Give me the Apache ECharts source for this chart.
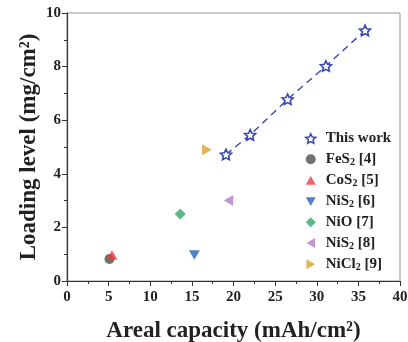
<!DOCTYPE html>
<html>
<head>
<meta charset="utf-8">
<script src="https://cdn.jsdelivr.net/npm/echarts@6/dist/echarts.min.js"></script>
<style>
  html, body { margin: 0; padding: 0; background: #fff; }
  #main { width: 408px; height: 342px; }
</style>
</head>
<body>
<div id="main"></div>
<script>
// this work
var workCap = [19.1, 22.0, 26.5, 31.1, 35.8];
var workLoad = [4.72, 5.45, 6.78, 8.02, 9.35];

// literature points [capacity, loading]
var refNames = ["FeS2 [4]", "CoS2 [5]", "NiS2 [6]", "NiO [7]", "NiS2 [8]", "NiCl2 [9]"];
var refCap = [5.1, 5.4, 15.3, 13.6, 19.4, 16.8];
var refLoad = [0.82, 0.97, 0.97, 2.5, 3.0, 4.9];
var refColors = ["#4d4d4d", "#ee3b3b", "#2563c4", "#2ea866", "#b47cc7", "#d9a02a"];

var xTicks = [0, 40, 5];
var yTicks = [0, 10, 2];

var starPath = "path://M50 0 L64.11 30.58 L97.55 34.55 L72.83 57.42 L79.39 90.45 L50 74 L20.61 90.45 L27.17 57.42 L2.45 34.55 L35.89 30.58 Z";
var triUp = "path://M5 0 L10 8.66 L0 8.66 Z";
var triDown = "path://M0 0 L10 0 L5 8.66 Z";
var triLeft = "path://M0 5 L8.66 0 L8.66 10 Z";
var triRight = "path://M0 0 L8.66 5 L0 10 Z";
var refSymbols = ["circle", triUp, triDown, "diamond", triLeft, triRight];
var refSizes = [10, 11, 11, 11, 11, 11];

var serif = "Liberation Serif";
var blue = "#3a48b0";

var myChart = echarts.init(document.getElementById("main"));

var series = [{
  name: "This work",
  type: "line",
  data: workCap.map(function (c, i) { return [c, workLoad[i]]; }),
  symbol: starPath,
  symbolSize: 11,
  symbolKeepAspect: true,
  itemStyle: { color: "#fff", borderColor: blue, borderWidth: 1.6 },
  lineStyle: { color: blue, width: 1.4, type: [7, 5] },
  z: 3
}];
for (var i = 0; i < refNames.length; i++) {
  series.push({
    name: refNames[i],
    type: "scatter",
    data: [[refCap[i], refLoad[i]]],
    symbol: refSymbols[i],
    symbolSize: refSizes[i],
    symbolKeepAspect: true,
    itemStyle: { color: refColors[i] }
  });
}

var legendData = [{
  name: "This work",
  icon: starPath,
  itemStyle: { color: "#fff", borderColor: blue, borderWidth: 1.5 }
}].concat(refNames.map(function (n, i) { return { name: n, icon: refSymbols[i] }; }));

var option = {
  animation: false,
  grid: {
    left: 67, right: 8, top: 13, bottom: 61,
    outerBoundsMode: "none", containLabel: false,
    show: true, borderColor: "#999", borderWidth: 1
  },
  legend: {
    orient: "vertical",
    left: 300,
    top: 126,
    itemWidth: 10,
    itemHeight: 10,
    itemGap: 5.2,
    data: legendData,
    formatter: function (name) {
      var m = name.match(/^(.*?)2 (\[\d\])$/);
      if (m) return "{t|" + m[1] + "}{s|2}{t| " + m[2] + "}";
      return "{t|" + name + "}";
    },
    textStyle: {
      padding: [0, 0, 0, 5],
      rich: {
        t: { fontFamily: serif, fontWeight: "bold", fontSize: 15, color: "#222", lineHeight: 16 },
        s: { fontFamily: serif, fontWeight: "bold", fontSize: 10, color: "#222", lineHeight: 10, verticalAlign: "bottom", padding: [6, 0, 0, 0] }
      }
    }
  },
  xAxis: {
    type: "value",
    min: xTicks[0], max: xTicks[1], interval: xTicks[2],
    name: "Areal capacity (mAh/cm²)",
    nameLocation: "middle",
    nameGap: 39,
    nameTextStyle: { fontFamily: serif, fontWeight: "bold", fontSize: 23, color: "#222" },
    axisLine: { lineStyle: { color: "#333", width: 1.2 } },
    axisTick: { length: 5, lineStyle: { color: "#333" } },
    minorTick: { show: true, splitNumber: 2, length: 3, lineStyle: { color: "#333" } },
    axisLabel: { fontFamily: serif, fontWeight: "bold", fontSize: 15, color: "#222", margin: 9 },
    splitLine: { show: false }
  },
  yAxis: {
    type: "value",
    min: yTicks[0], max: yTicks[1], interval: yTicks[2],
    name: "Loading level (mg/cm²)",
    nameLocation: "middle",
    nameGap: 26,
    nameMoveOverlap: false,
    nameTextStyle: { fontFamily: serif, fontWeight: "bold", fontSize: 23, color: "#222" },
    axisLine: { show: true, lineStyle: { color: "#333", width: 1.2 } },
    axisTick: { show: true, length: 5, lineStyle: { color: "#333" } },
    minorTick: { show: true, splitNumber: 2, length: 3, lineStyle: { color: "#333" } },
    axisLabel: { fontFamily: serif, fontWeight: "bold", fontSize: 15, color: "#222", margin: 6 },
    splitLine: { show: false }
  },
  series: series
};

myChart.setOption(option);
window.addEventListener("resize", function () {
  myChart.resize();
});
</script>
</body>
</html>
